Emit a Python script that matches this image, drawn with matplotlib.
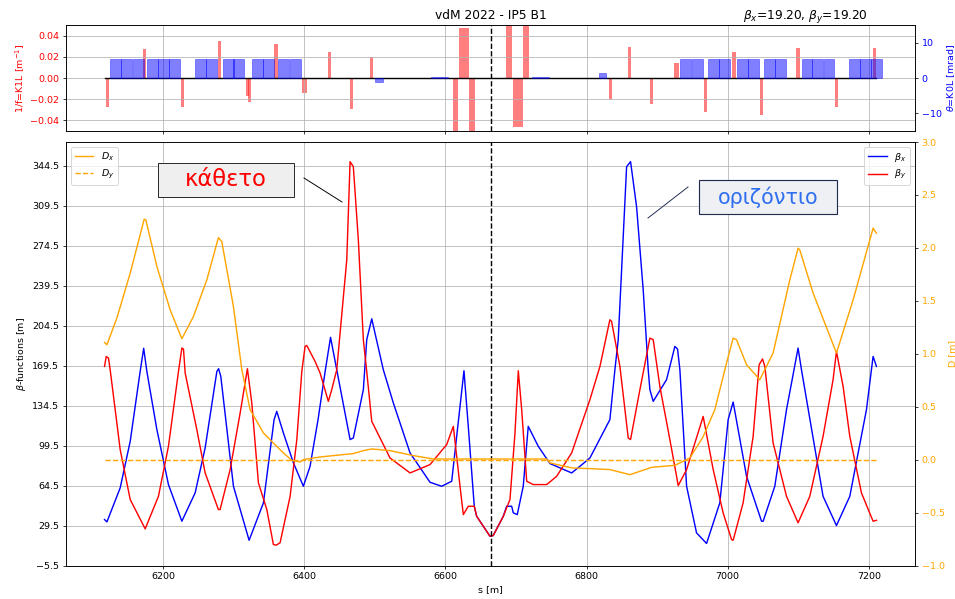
import numpy as np
import matplotlib.pyplot as plt
from matplotlib.patches import Rectangle
from matplotlib.lines import Line2D

# IP5 position and optics at the IP
s_ip = 6664.7
title = "vdM 2022 - IP5 B1"
title_right = r"$\beta_x$=19.20, $\beta_y$=19.20"

# beta-x (horizontal)
s_bx = [6116.9, 6120.3, 6139.1, 6153.3, 6167.4, 6172.4, 6176.9, 6191.1, 6207.5, 6226.5,
        6245.3, 6259.5, 6276.1, 6278.6, 6281.7, 6299.6, 6321.8, 6342.1, 6357.2, 6361.0,
        6370.4, 6384.6, 6398.7, 6408.2, 6419.5, 6429.5, 6437.2, 6446.0, 6464.9, 6469.5,
        6483.7, 6488.5, 6495.6, 6512.0, 6526.2, 6549.9, 6578.2, 6594.7, 6608.9, 6620.7,
        6626.3, 6632.4, 6640.9, 6644.3, 6663.2, 6667.8, 6682.0, 6686.8, 6693.9, 6696.2,
        6701.8, 6710.3, 6717.4, 6731.6, 6748.2, 6778.9, 6790.6, 6804.8, 6833.1, 6840.2,
        6844.9, 6856.8, 6862.4, 6870.9, 6880.3, 6887.4, 6889.8, 6894.5, 6913.4, 6925.2,
        6929.0, 6932.3, 6941.8, 6955.9, 6970.1, 6988.9, 7000.7, 7007.8, 7026.8, 7048.0,
        7050.3, 7066.8, 7083.4, 7099.8, 7104.6, 7135.2, 7154.2, 7173.1, 7196.7, 7206.1,
        7210.9]
beta_x = [34.8, 32.7, 62.5, 103.3, 164.5, 184.8, 164.5, 113.5, 65.4, 33.3,
          58.1, 97.5, 164.5, 166.9, 160.1, 63.9, 16.6, 49.4, 122.3, 129.5,
          110.6, 84.4, 63.9, 81.4, 122.3, 164.3, 194.4, 166.0, 104.8, 106.2,
          148.5, 192.3, 210.6, 166.0, 136.9, 93.1, 67.4, 63.9, 68.3, 133.9,
          165.1, 116.4, 46.4, 37.6, 20.1, 20.8, 37.6, 46.4, 46.4, 40.6,
          39.1, 63.9, 116.4, 98.9, 83.8, 75.6, 81.4, 88.7, 122.3, 166.0,
          192.3, 343.9, 348.3, 308.9, 236.0, 166.0, 148.5, 138.3, 157.3, 186.4,
          184.1, 166.0, 63.9, 23.1, 13.8, 49.4, 122.3, 137.7, 72.6, 33.3,
          33.3, 63.9, 131.0, 185.0, 166.0, 55.1, 29.5, 55.1, 131.0, 177.6,
          168.9]

# beta-y (vertical)
s_by = [6116.9, 6119.3, 6122.5, 6124.9, 6139.1, 6153.3, 6174.5, 6193.3, 6207.5, 6221.7,
        6226.5, 6228.8, 6231.2, 6247.7, 6259.5, 6278.3, 6280.7, 6294.9, 6309.1, 6319.4,
        6325.6, 6335.0, 6346.9, 6356.2, 6360.1, 6365.7, 6379.9, 6389.4, 6396.5, 6401.1,
        6403.5, 6415.3, 6422.4, 6434.1, 6438.9, 6446.0, 6460.2, 6464.9, 6469.5, 6476.6,
        6483.7, 6488.5, 6495.6, 6521.5, 6549.9, 6578.2, 6601.8, 6611.2, 6620.7, 6625.4,
        6632.4, 6640.9, 6644.3, 6663.2, 6667.8, 6682.0, 6691.5, 6698.6, 6703.3, 6708.1,
        6715.2, 6724.5, 6743.5, 6757.6, 6778.9, 6804.8, 6819.0, 6833.1, 6835.5, 6847.3,
        6859.1, 6862.4, 6875.6, 6889.8, 6894.5, 6903.9, 6918.1, 6927.6, 6929.9, 6941.8,
        6965.3, 6979.5, 6993.6, 7005.5, 7007.8, 7021.9, 7036.1, 7044.6, 7049.4, 7052.7,
        7064.4, 7083.4, 7099.8, 7116.4, 7135.2, 7149.4, 7154.2, 7163.6, 7173.1, 7189.6,
        7206.1, 7210.9]
beta_y = [168.9, 177.6, 176.2, 166.0, 96.0, 52.3, 26.6, 55.1, 98.9, 164.5,
          185.0, 184.1, 163.1, 113.5, 75.6, 43.5, 43.5, 78.5, 128.1, 166.9,
          136.9, 66.9, 43.5, 12.9, 12.3, 14.4, 55.1, 104.8, 164.5, 186.4,
          187.3, 173.3, 163.1, 138.3, 148.5, 166.0, 262.3, 348.3, 343.9, 279.8,
          192.3, 164.5, 120.8, 88.7, 75.6, 82.9, 100.4, 116.4, 63.9, 39.1,
          46.4, 46.4, 37.6, 20.1, 20.8, 37.6, 52.3, 110.6, 165.1, 131.0,
          68.3, 65.4, 65.4, 72.6, 93.1, 139.8, 168.9, 209.8, 208.3, 168.9,
          106.2, 104.8, 148.5, 193.7, 192.3, 151.4, 104.8, 72.6, 64.5, 78.5,
          125.1, 78.5, 40.6, 17.3, 16.6, 49.4, 107.6, 170.4, 175.4, 168.9,
          101.9, 55.1, 31.9, 55.1, 107.6, 157.3, 182.0, 151.4, 107.6, 58.1,
          33.3, 34.1]

# horizontal dispersion
s_dx = [6116.9, 6120.3, 6134.4, 6153.3, 6173.1, 6175.5, 6191.1, 6209.9, 6226.5, 6242.9,
        6261.9, 6278.3, 6283.1, 6299.6, 6311.5, 6323.2, 6342.1, 6356.2, 6370.4, 6382.3,
        6394.0, 6398.7, 6422.4, 6441.2, 6469.5, 6483.7, 6495.6, 6521.5, 6554.5, 6582.9,
        6649.0, 6743.5, 6748.2, 6778.9, 6804.8, 6833.1, 6861.5, 6892.2, 6925.2, 6932.3,
        6946.5, 6965.3, 6981.8, 6998.4, 7007.8, 7012.6, 7026.8, 7045.6, 7064.4, 7088.1,
        7099.8, 7102.2, 7121.1, 7154.2, 7177.8, 7206.1, 7210.9]
d_x = [1.107, 1.085, 1.337, 1.761, 2.271, 2.264, 1.824, 1.415, 1.142, 1.352,
       1.698, 2.097, 2.059, 1.446, 0.849, 0.472, 0.252, 0.157, 0.063, -0.007,
       -0.022, 0.000, 0.025, 0.038, 0.057, 0.085, 0.101, 0.085, 0.038, 0.006,
       0.006, 0.006, -0.031, -0.078, -0.085, -0.094, -0.142, -0.073, -0.054, -0.031,
       0.016, 0.217, 0.472, 0.912, 1.148, 1.132, 0.896, 0.755, 1.007, 1.698,
       1.997, 1.981, 1.573, 1.007, 1.509, 2.186, 2.139]
s_dy = [6116.9, 7210.9]
d_y = [0.0, 0.0]

# quadrupoles: position, K1L, length
quad_s = [6120.7, 6173.5, 6227.3, 6280.3, 6319.0, 6321.8, 6359.8, 6400.4, 6435.5, 6467.3,
          6495.0, 6614.0, 6626.3, 6638.1, 6690.4, 6702.8, 6714.4, 6834.1, 6861.0, 6892.6,
          6927.6, 6968.1, 7009.0, 7047.4, 7099.8, 7154.2, 7208.5]
quad_k1l = [-0.027, 0.0273, -0.027, 0.035, -0.017, -0.0225, 0.032, -0.0138, 0.0248, -0.029,
            0.020, -0.06, 0.047, -0.06, 0.06, -0.0464, 0.06, -0.0198, 0.0295, -0.0242,
            0.0144, -0.0317, 0.0245, -0.0348, 0.028, -0.027, 0.028]
quad_len = [4.5, 4.5, 4.5, 4.5, 4.0, 4.0, 4.5, 8.0, 4.5, 4.5,
            4.5, 7.5, 13.0, 8.5, 9.0, 13.0, 8.0, 4.5, 4.5, 4.5,
            6.5, 4.5, 4.5, 4.5, 4.5, 4.5, 4.5]

# dipoles: position, K0L [mrad], length
dip_s = [6132.0, 6148.3, 6164.6, 6185.1, 6200.0, 6215.6,
         6253.1, 6268.7, 6292.1, 6307.2,
         6333.1, 6348.7, 6370.7, 6387.0,
         6505.9, 6591.9, 6735.4, 6822.5,
         6940.6, 6956.6, 6980.2, 6996.0, 7020.4, 7036.2, 7059.3, 7074.6,
         7112.4, 7127.7, 7143.6, 7180.1, 7196.0, 7210.9]
dip_theta = [5.3] * 14 + [-1.2, 0.4, 0.3, 1.3] + [5.3] * 14
dip_len = [15.5] * 14 + [10.0, 24.0, 24.0, 10.0] + [15.5] * 14

fig = plt.figure(figsize=(955 / 68, 599 / 68), dpi=68)
ax_top = fig.add_axes([66 / 955, 1 - 131 / 599, 849 / 955, 106 / 599])
ax = fig.add_axes([66 / 955, 1 - 565.5 / 599, 849 / 955, 423.5 / 599], sharex=ax_top)

# --- lattice panel
ax_top.bar(quad_s, quad_k1l, width=quad_len, color='r', alpha=0.5, lw=1.5)
ax_top.plot(s_dy, d_y, 'k', lw=1.5)
ax_top.axvline(s_ip, color='k', ls='--', lw=1.5)
ax_top.set_ylim(-0.05, 0.05)
ax_top.set_yticks([-0.04, -0.02, 0.0, 0.02, 0.04])
ax_top.set_ylabel('1/f=K1L [m$^{-1}$]', color='r')
ax_top.tick_params(axis='y', labelcolor='r')
ax_top.tick_params(axis='x', labelbottom=False)
ax_top.grid()
ax_top.set_title(title, fontsize=13)
t = ax_top.set_title(title_right, loc='right', fontsize=13)
t.set_x(0.9446)

ax_top2 = ax_top.twinx()
ax_top2.bar(dip_s, dip_theta, width=dip_len, color='b', alpha=0.5, edgecolor='b', lw=0.8)
ax_top2.set_ylim(-15, 15)
ax_top2.set_yticks([-10, 0, 10])
ax_top2.set_ylabel(r'$\theta$=K0L [mrad]', color='b')
ax_top2.tick_params(axis='y', labelcolor='b')

# --- optics panel
ax.plot(s_bx, beta_x, 'b', label=r'$\beta_x$')
ax.plot(s_by, beta_y, 'r', label=r'$\beta_y$')
ax.axvline(s_ip, color='k', ls='--', lw=1.5)
ax.set_ylim(-5.5, 365.5)
ax.set_yticks(np.arange(-5.5, 350, 35))
ax.set_xlim(6062.3, 7265.5)
ax.set_ylabel(r'$\beta$-functions [m]')
ax.set_xlabel('s [m]')
ax.grid()
ax.legend(loc='upper right')

ax2 = ax.twinx()
ax2.plot(s_dx, d_x, color='orange', label='$D_x$')
ax2.plot(s_dy, d_y, '--', color='orange', label='$D_y$')
ax2.set_ylim(-1, 3)
ax2.set_ylabel('D [m]', color='orange')
ax2.tick_params(axis='y', labelcolor='orange')
ax2.legend(loc='upper left')

# --- text boxes added on top of the plot
fig.add_artist(Rectangle((158 / 955, 1 - 197 / 599), 136 / 955, 34 / 599,
                         transform=fig.transFigure, facecolor='#efefef',
                         edgecolor='#222222', lw=1))
fig.text(226 / 955, 1 - 180 / 599, 'κάθετο', color='red', fontsize=24,
         ha='center', va='center')
fig.add_artist(Line2D([304 / 955, 342 / 955], [1 - 178 / 599, 1 - 202 / 599],
                      transform=fig.transFigure, color='k', lw=1))

fig.add_artist(Rectangle((699 / 955, 1 - 214 / 599), 138 / 955, 34 / 599,
                         transform=fig.transFigure, facecolor='#eef0f3',
                         edgecolor='#1f2a4f', lw=1.2))
fig.text(768 / 955, 1 - 197 / 599, 'οριζόντιο', color='#2f6fef', fontsize=22,
         ha='center', va='center')
fig.add_artist(Line2D([688 / 955, 648 / 955], [1 - 187 / 599, 1 - 218 / 599],
                      transform=fig.transFigure, color='#1f2a4f', lw=1))

fig.savefig('out.png', dpi=68)
